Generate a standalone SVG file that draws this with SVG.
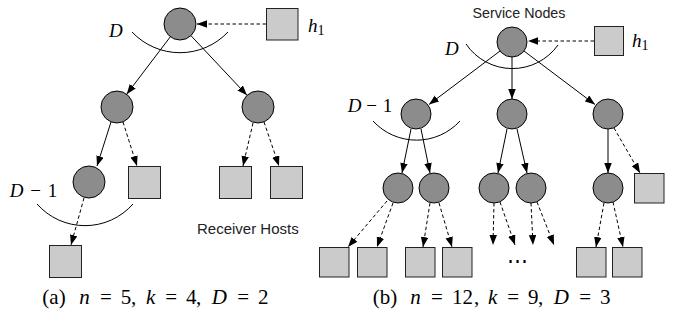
<svg xmlns="http://www.w3.org/2000/svg" width="673" height="322" viewBox="0 0 673 322">
<defs>
<marker id="ah" markerUnits="userSpaceOnUse" markerWidth="11" markerHeight="8" refX="10" refY="3.75" orient="auto">
<path d="M0,0 L10,3.75 L0,7.5 z" fill="#000"/>
</marker>
</defs>
<style>
.svc{fill:#8c8c8c;stroke:#000;stroke-width:1}
.host{fill:#cbcbcb;stroke:#222;stroke-width:1}
.e{stroke:#000;stroke-width:1;fill:none;marker-end:url(#ah)}
.d{stroke-dasharray:3.5,2.5}
.arc{stroke:#000;stroke-width:1;fill:none}
.m{font-size:19px;font-style:italic;fill:#000}
.up{font-style:normal}
.it{font-style:italic}
.cap{font-size:21px;fill:#000}
.lbl{font-family:"Liberation Sans",Arial,sans-serif;fill:#222}
</style>
<rect width="673" height="322" fill="#fff"/>

<g id="connectors">
<!-- (a) -->
<line class="e d" x1="266" y1="24" x2="197" y2="24"/>
<line class="e" x1="170.3" y1="36.8" x2="126.7" y2="94.2"/>
<line class="e" x1="191" y1="35.7" x2="247" y2="95.3"/>
<line class="e" x1="111" y1="122" x2="97" y2="166"/>
<line class="e d" x1="123" y1="122" x2="137" y2="166"/>
<line class="e d" x1="253" y1="123" x2="243" y2="166"/>
<line class="e d" x1="264" y1="122" x2="279" y2="166"/>
<line class="e d" x1="84" y1="198" x2="71" y2="245"/>
<path class="arc" d="M132,32 A66,66 0 0 0 228,32"/>
<path class="arc" d="M37,204 A64,64 0 0 0 133,204"/>
<!-- (b) -->
<line class="e d" x1="594" y1="41" x2="528" y2="41"/>
<line class="e" x1="500" y1="51" x2="429" y2="104.5"/>
<line class="e" x1="512" y1="57" x2="512" y2="99"/>
<line class="e" x1="524" y1="51" x2="595" y2="104.5"/>
<line class="e" x1="411" y1="129" x2="402" y2="173"/>
<line class="e" x1="421" y1="129" x2="430" y2="173"/>
<line class="e" x1="507" y1="129" x2="498" y2="173"/>
<line class="e" x1="517" y1="129" x2="527" y2="173"/>
<line class="e" x1="608" y1="129" x2="608" y2="173"/>
<line class="e d" x1="614" y1="128" x2="640" y2="173"/>
<line class="e d" x1="387" y1="201" x2="348" y2="247"/>
<line class="e d" x1="393" y1="203" x2="377" y2="247"/>
<line class="e d" x1="430" y1="203" x2="423" y2="247"/>
<line class="e d" x1="439" y1="203" x2="452" y2="247"/>
<line class="e d" x1="494" y1="203" x2="493" y2="245"/>
<line class="e d" x1="500" y1="202" x2="515" y2="245"/>
<line class="e d" x1="531" y1="203" x2="533" y2="245"/>
<line class="e d" x1="537" y1="202" x2="554" y2="245"/>
<line class="e d" x1="604" y1="203" x2="596" y2="247"/>
<line class="e d" x1="613" y1="202" x2="623" y2="247"/>
<path class="arc" d="M466,44 A56,56 0 0 0 558,45"/>
<path class="arc" d="M373,121 A59,59 0 0 0 460,121"/>
</g>

<!-- (a) nodes -->
<g id="a-root"><circle class="svc" cx="180" cy="24" r="16"/></g>
<g id="a-h1"><rect class="host" x="266.5" y="8.5" width="31.5" height="31.5"/></g>
<g id="a-s1"><circle class="svc" cx="117" cy="107" r="16"/></g>
<g id="a-s2"><circle class="svc" cx="258" cy="107" r="16"/></g>
<g id="a-s3"><circle class="svc" cx="89" cy="182" r="16"/></g>
<g id="a-r1"><rect class="host" x="128.5" y="166.5" width="32" height="32"/></g>
<g id="a-r2"><rect class="host" x="219.5" y="166.5" width="32" height="32"/></g>
<g id="a-r3"><rect class="host" x="270.5" y="166.5" width="32" height="32"/></g>
<g id="a-r4"><rect class="host" x="49.5" y="245.5" width="32" height="32"/></g>

<!-- (b) nodes -->
<g id="b-root"><circle class="svc" cx="512" cy="42" r="15"/></g>
<g id="b-h1"><rect class="host" x="594.5" y="26.5" width="29" height="29"/></g>
<g id="b-s1"><circle class="svc" cx="416" cy="114" r="15"/></g>
<g id="b-s2"><circle class="svc" cx="512" cy="114" r="15"/></g>
<g id="b-s3"><circle class="svc" cx="608" cy="114" r="15"/></g>
<g id="b-s4"><circle class="svc" cx="398" cy="188" r="15"/></g>
<g id="b-s5"><circle class="svc" cx="434" cy="188" r="15"/></g>
<g id="b-s6"><circle class="svc" cx="494" cy="188" r="15"/></g>
<g id="b-s7"><circle class="svc" cx="531" cy="188" r="15"/></g>
<g id="b-s8"><circle class="svc" cx="608" cy="188" r="15"/></g>
<g id="b-r1"><rect class="host" x="634.5" y="173.5" width="29.5" height="29.5"/></g>
<g id="b-r2"><rect class="host" x="319.5" y="247.5" width="29.5" height="29.5"/></g>
<g id="b-r3"><rect class="host" x="357.5" y="247.5" width="29.5" height="29.5"/></g>
<g id="b-r4"><rect class="host" x="405.5" y="247.5" width="29.5" height="29.5"/></g>
<g id="b-r5"><rect class="host" x="442.5" y="247.5" width="29.5" height="29.5"/></g>
<g id="b-r6"><rect class="host" x="576.5" y="247.5" width="29.5" height="29.5"/></g>
<g id="b-r7"><rect class="host" x="612.5" y="247.5" width="29.5" height="29.5"/></g>

<!-- labels -->
<g id="labels" font-family="'Liberation Serif', 'Times New Roman', serif">
<text class="m" x="109" y="37">D</text>
<text class="m" x="308" y="32" font-size="21">h<tspan class="up" font-size="14" dy="3">1</tspan></text>
<text class="m" y="197" text-anchor="middle"><tspan x="16.5">D</tspan><tspan class="up" x="35.5">−</tspan><tspan class="up" x="52.5">1</tspan></text>
<text class="m" x="445" y="55">D</text>
<text class="m" x="632" y="47" font-size="21">h<tspan class="up" font-size="14" dy="3">1</tspan></text>
<text class="m" y="112" text-anchor="middle"><tspan x="354.5">D</tspan><tspan class="up" x="371.5">−</tspan><tspan class="up" x="387.5">1</tspan></text>
<text class="cap" x="517" y="268" text-anchor="middle">⋯</text>
<text class="cap" y="304" text-anchor="middle"><tspan x="54">(a)</tspan><tspan class="it" x="84.6">n</tspan><tspan x="105.9">=</tspan><tspan x="126">5</tspan><tspan x="133.5">,</tspan><tspan class="it" x="150.7">k</tspan><tspan x="171.2">=</tspan><tspan x="191.3">4</tspan><tspan x="198.5">,</tspan><tspan class="it" x="219.3">D</tspan><tspan x="243.1">=</tspan><tspan x="263.2">2</tspan></text>
<text class="cap" y="304" text-anchor="middle"><tspan x="385.1">(b)</tspan><tspan class="it" x="415.6">n</tspan><tspan x="436.9">=</tspan><tspan x="462.5">12</tspan><tspan x="476.5">,</tspan><tspan class="it" x="492.7">k</tspan><tspan x="513.2">=</tspan><tspan x="533.3">9</tspan><tspan x="540.5">,</tspan><tspan class="it" x="561.3">D</tspan><tspan x="585.1">=</tspan><tspan x="605.2">3</tspan></text>
</g>
<g id="sans-labels">
<text class="lbl" x="197" y="234" font-size="15">Receiver Hosts</text>
<text class="lbl" x="519" y="18" font-size="14.3" text-anchor="middle">Service Nodes</text>
</g>
</svg>
